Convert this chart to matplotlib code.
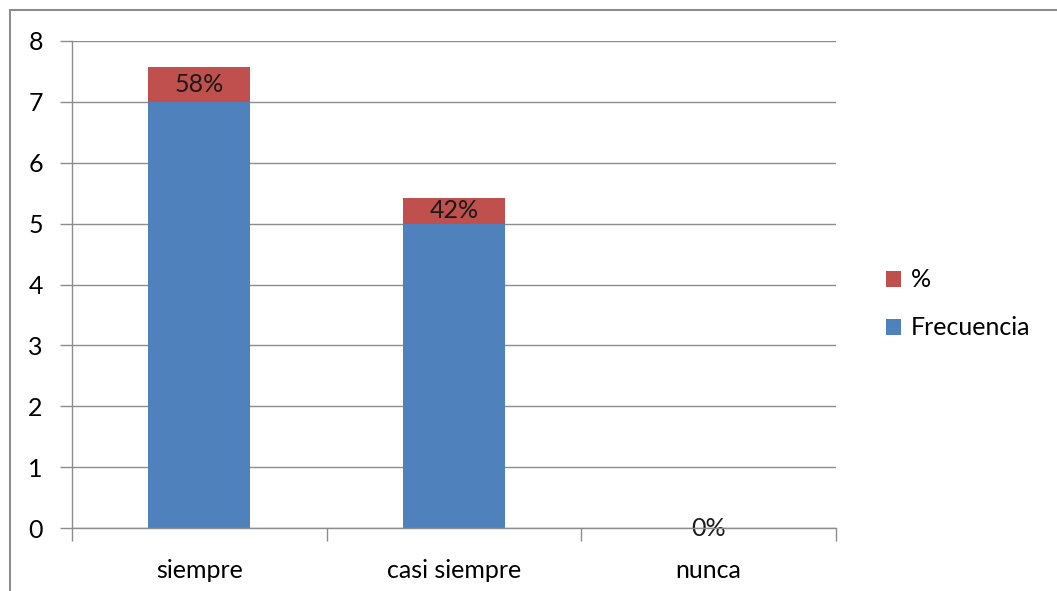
import matplotlib
matplotlib.use("Agg")
import matplotlib.pyplot as plt
from matplotlib.patches import Rectangle

categories = ["siempre", "casi siempre", "nunca"]
frecuencia = [7, 5, 0]
porcentaje = [0.58, 0.42, 0.0]
pct_labels = ["58%", "42%", "0%"]

plt.rcParams['font.family'] = ['Lato', 'DejaVu Sans']
FS = 18

W, H = 1057, 591
fig = plt.figure(figsize=(W/100, H/100), dpi=100)
ax = fig.add_axes([72/W, 1-528/H, (836-72)/W, (528-41)/H])

blue = "#4F81BD"
red = "#C0504D"
x = list(range(len(categories)))
ax.bar(x, frecuencia, width=0.4, color=blue, label="Frecuencia", zorder=3)
ax.bar(x, porcentaje, width=0.4, bottom=frecuencia, color=red, label="%", zorder=3)
for i in x:
    ax.text(i, frecuencia[i] + porcentaje[i] / 2, pct_labels[i], ha="center", va="center",
            fontsize=FS, color="#1a1a1a", zorder=4)

ax.set_xlim(-0.5, 2.5)
ax.set_ylim(0, 8)
ax.set_yticks(range(0, 9))
ax.yaxis.grid(True, color="#8c8c8c", linewidth=1, zorder=0)
ax.set_xticks(x)
ax.set_xticklabels(categories)
ax.set_xticks([-0.5, 0.5, 1.5, 2.5], minor=True)
ax.tick_params(axis="x", which="major", length=0, pad=22, labelsize=FS)
ax.tick_params(axis="x", which="minor", length=9, color="#8c8c8c", width=1)
ax.tick_params(axis="y", length=9, color="#8c8c8c", width=1, pad=12, labelsize=FS)
for s in ["top", "right"]:
    ax.spines[s].set_visible(False)
for s in ["left", "bottom"]:
    ax.spines[s].set_color("#8c8c8c")
    ax.spines[s].set_linewidth(1)
    ax.spines[s].set_zorder(5)

handles, labels = ax.get_legend_handles_labels()
leg = fig.legend(handles[::-1], labels[::-1], loc="center left",
                 bbox_to_anchor=(863/W, 1-304/H), frameon=False, fontsize=FS,
                 handlelength=0.6, handleheight=0.6, handletextpad=0.4, labelspacing=1.0)

fig.patches.append(Rectangle((10/W, -0.1), 1.2, 1.1-10/H, transform=fig.transFigure,
                             fill=False, edgecolor="#8c8c8c", linewidth=1.5))

fig.savefig("out.png", dpi=100)
